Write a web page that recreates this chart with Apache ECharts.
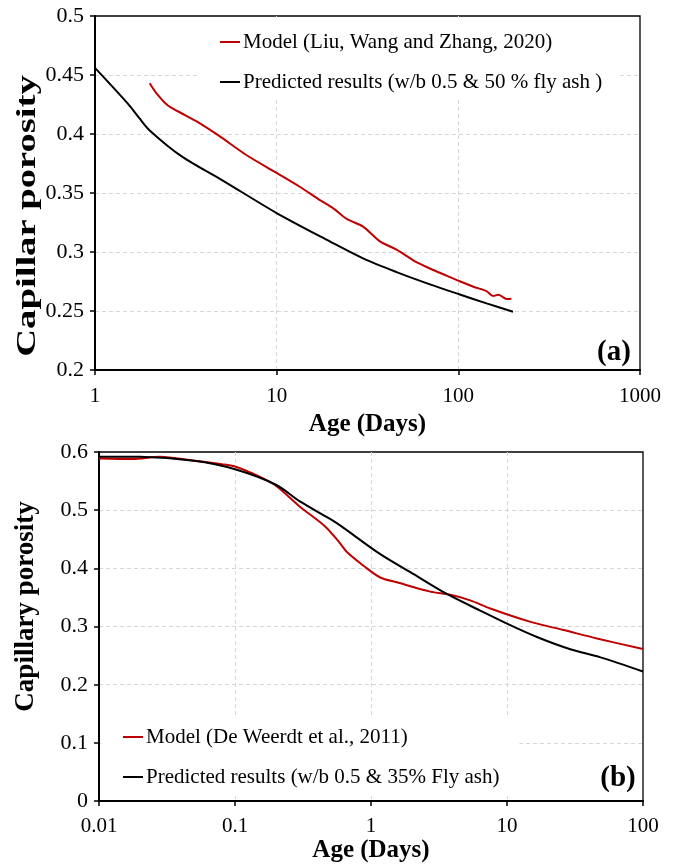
<!DOCTYPE html>
<html>
<head>
<meta charset="utf-8">
<script src="https://cdn.jsdelivr.net/npm/echarts@6/dist/echarts.min.js"></script>
<style>
html,body{margin:0;padding:0;background:#fff;}
#chart{width:676px;height:864px;}
</style>
</head>
<body>
<div id="chart"></div>
<script>
// ---- Panel (a) data ----
const ageA_model  = [2, 2.18, 2.5, 3.13, 3.78, 4.76, 6.84, 10, 13.4, 17.3, 20.5, 24.3, 29.9, 37, 45.7, 56.5, 69.8, 86, 100, 121, 143, 155.6, 166, 176.6, 184.4, 196];
const poroA_model = [0.443, 0.4345, 0.4246, 0.416, 0.409, 0.399, 0.382, 0.367, 0.3553, 0.344, 0.337, 0.328, 0.3215, 0.309, 0.302, 0.293, 0.286, 0.280, 0.2757, 0.2706, 0.2669, 0.2627, 0.2638, 0.2616, 0.2602, 0.2604];
const ageA_pred   = [1, 1.52, 1.75, 2, 3, 5, 10, 19.6, 29.9, 45.7, 69.8, 100, 143, 200];
const poroA_pred  = [0.456, 0.4255, 0.4136, 0.403, 0.381, 0.361, 0.333, 0.309, 0.2946, 0.283, 0.2726, 0.2644, 0.2565, 0.2494];

// ---- Panel (b) data ----
const ageB_model  = [0.01, 0.0176, 0.028, 0.05, 0.08, 0.1, 0.15, 0.2, 0.3, 0.46, 0.593, 0.665, 0.88, 1.17, 1.55, 2.73, 3.83, 5.37, 7.54, 14.9, 26.1, 45.9, 100];
const poroB_model = [0.589, 0.588, 0.5917, 0.585, 0.579, 0.575, 0.558, 0.542, 0.506, 0.472, 0.443, 0.428, 0.4046, 0.3843, 0.376, 0.360, 0.3545, 0.345, 0.331, 0.308, 0.294, 0.2795, 0.2613];
const ageB_pred   = [0.01, 0.02, 0.05, 0.1, 0.2, 0.3, 0.5, 0.6, 1.17, 2.06, 3.61, 6.35, 10, 16.6, 29.2, 48.7, 100];
const poroB_pred  = [0.592, 0.5917, 0.585, 0.5704, 0.5437, 0.515, 0.485, 0.473, 0.4244, 0.390, 0.356, 0.3275, 0.305, 0.282, 0.261, 0.247, 0.2227];

// ---- Labels ----
const nameA_model = 'Model (Liu, Wang and Zhang, 2020)';
const nameA_pred  = 'Predicted results (w/b 0.5 & 50 % fly ash )';
const nameB_model = 'Model (De Weerdt et al., 2011)';
const nameB_pred  = 'Predicted results (w/b 0.5 & 35% Fly ash)';
const xTitle = 'Age (Days)';
const yTitleA = 'Capillar porosity';
const yTitleB = 'Capillary porosity';

const pair = (xs, ys) => xs.map((x, i) => [x, ys[i]]);
const FONT = '"Liberation Serif", "Times New Roman", serif';
const RED = '#c00000';

const gridCommon = { show: true, borderColor: '#000', borderWidth: 1.3, backgroundColor: 'transparent' };
const splitDash = { show: true, showMinLine: false, showMaxLine: false,
  lineStyle: { color: '#d6d6d6', type: [4, 3], width: 1 } };

function xAxis(gridIndex, min, max, nameGap, margin) {
  return {
    type: 'log', logBase: 10, gridIndex, min, max,
    axisLine: { show: true, lineStyle: { color: '#000', width: 2 } },
    axisTick: { show: true, length: 5, lineStyle: { color: '#000', width: 1.5 } },
    axisLabel: { color: '#000', fontFamily: FONT, fontSize: 21, margin,
      formatter: v => String(+v.toPrecision(6)) },
    minorTick: { show: false },
    splitLine: splitDash,
    name: xTitle, nameLocation: 'middle', nameGap,
    nameTextStyle: { color: '#000', fontFamily: FONT, fontSize: 25, fontWeight: 'bold' }
  };
}
function yAxis(gridIndex, min, max, interval) {
  return {
    type: 'value', gridIndex, min, max, interval,
    axisLine: { show: true, lineStyle: { color: '#000', width: 2 } },
    axisTick: { show: true, length: 5, lineStyle: { color: '#000', width: 1.5 } },
    axisLabel: { color: '#000', fontFamily: FONT, fontSize: 22, margin: 11,
      formatter: v => String(+v.toFixed(3)) },
    splitLine: splitDash
  };
}
function lineSeries(name, data, color, xi, yi) {
  return {
    type: 'line', name, data, xAxisIndex: xi, yAxisIndex: yi,
    showSymbol: false, symbol: 'none', smooth: 0.3,
    lineStyle: { color, width: 2 }, itemStyle: { color }, z: 3
  };
}
function legend(data, left, top, padding) {
  return {
    data, orient: 'vertical', left, top, padding, itemGap: 18,
    icon: 'rect', itemWidth: 20, itemHeight: 2,
    backgroundColor: '#fff',
    textStyle: { color: '#000', fontFamily: FONT, fontSize: 21, lineHeight: 22, padding: [0, 0, 0, -2] },
    z: 5
  };
}

const chart = echarts.init(document.getElementById('chart'), null, { renderer: 'canvas' });
chart.setOption({
  animation: false,
  backgroundColor: '#fff',
  grid: [
    Object.assign({ left: 95, top: 16, width: 545, height: 354 }, gridCommon),
    Object.assign({ left: 99, top: 452, width: 544, height: 352 }, gridCommon)
  ],
  xAxis: [xAxis(0, 1, 1000, 42, 16), xAxis(1, 0.01, 100, 31, 15)],
  yAxis: [yAxis(0, 0.2, 0.5, 0.05), yAxis(1, 0, 0.6, 0.1)],
  legend: [
    legend([nameA_model, nameA_pred], 200, 17, [14, 17, 7, 20]),
    legend([nameB_model, nameB_pred], 101, 715, [11, 20, 8, 22])
  ],
  series: [
    lineSeries(nameA_model, pair(ageA_model, poroA_model), RED, 0, 0),
    lineSeries(nameA_pred, pair(ageA_pred, poroA_pred), '#000', 0, 0),
    lineSeries(nameB_model, pair(ageB_model, poroB_model), RED, 1, 1),
    lineSeries(nameB_pred, pair(ageB_pred, poroB_pred), '#000', 1, 1)
  ],
  graphic: [
    { type: 'text', x: 27.5, y: 216, rotation: Math.PI / 2, scaleX: 1.38,
      style: { text: yTitleA, font: 'bold 28px ' + FONT, fill: '#000', align: 'center', verticalAlign: 'middle', textAlign: 'center', textVerticalAlign: 'middle' } },
    { type: 'text', x: 26.5, y: 606.5, rotation: Math.PI / 2,
      style: { text: yTitleB, font: 'bold 27px ' + FONT, fill: '#000', align: 'center', verticalAlign: 'middle', textAlign: 'center', textVerticalAlign: 'middle' } },
    { type: 'text', x: 614, y: 353, z: 10,
      style: { text: '(a)', font: 'bold 29px ' + FONT, fill: '#000', align: 'center', verticalAlign: 'middle', textAlign: 'center', textVerticalAlign: 'middle' } },
    { type: 'text', x: 618, y: 779, z: 10,
      style: { text: '(b)', font: 'bold 29px ' + FONT, fill: '#000', align: 'center', verticalAlign: 'middle', textAlign: 'center', textVerticalAlign: 'middle' } }
  ]
});
</script>
</body>
</html>
